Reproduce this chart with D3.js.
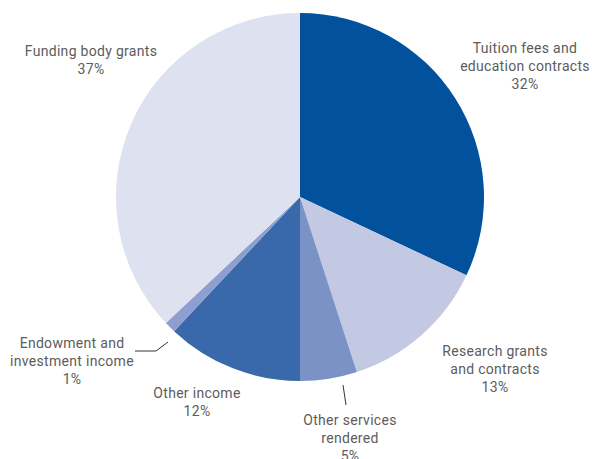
<!DOCTYPE html>
<html>
<head>
<meta charset="utf-8">
<script src="https://cdn.jsdelivr.net/npm/d3@7"></script>
<style>
  html, body { margin: 0; padding: 0; background: #fff; }
  svg { display: block; }
  text { font-family: Roboto, "DejaVu Sans", sans-serif; font-size: 14px; letter-spacing: 0.3px; fill: #5c5c5c; }
</style>
</head>
<body>
<svg id="chart" width="592" height="459"></svg>
<script>
// Income sources, clockwise from 12 o'clock
const categories = [
  "Tuition fees and\neducation contracts",
  "Research grants\nand contracts",
  "Other services\nrendered",
  "Other income",
  "Endowment and\ninvestment income",
  "Funding body grants"
];
const shares = [32, 13, 5, 12, 1, 37];
const colours = ["#02519c", "#c3c9e3", "#7a92c5", "#3a69ab", "#8d9fcf", "#dde1f0"];

const svg = d3.select("#chart");
const cx = 300, cy = 197, radius = 184;

const pie = d3.pie().sort(null).value(d => d.value);
const arc = d3.arc().innerRadius(0).outerRadius(radius);

const rows = categories.map((c, i) => ({ label: c, value: shares[i], colour: colours[i] }));
const arcs = pie(rows);

const g = svg.append("g").attr("transform", `translate(${cx},${cy})`);
g.selectAll("path")
  .data(arcs)
  .join("path")
  .attr("d", arc)
  .attr("fill", d => d.data.colour);

// Label anchor (centre of first line, page coordinates) for each slice
const labelAt = [
  [525, 53], [495, 356], [350, 425], [197, 398], [72, 348], [91, 56]
];
const lineGap = 18;

svg.append("g").selectAll("text")
  .data(arcs)
  .join("text")
  .attr("text-anchor", "middle")
  .each(function(d, i) {
    const lines = d.data.label.split("\n").concat([d.data.value + "%"]);
    const t = d3.select(this);
    lines.forEach((ln, k) => {
      t.append("tspan")
        .attr("x", labelAt[i][0])
        .attr("y", labelAt[i][1] + k * lineGap)
        .text(ln);
    });
  });

// Leader lines for the two thin slices
const leaders = [
  [[343, 385], [346, 405]],
  [[135, 351], [156, 351], [168, 342]]
];
svg.append("g").selectAll("path")
  .data(leaders)
  .join("path")
  .attr("d", d3.line())
  .attr("fill", "none")
  .attr("stroke", "#333")
  .attr("stroke-width", 1);
</script>
</body>
</html>
